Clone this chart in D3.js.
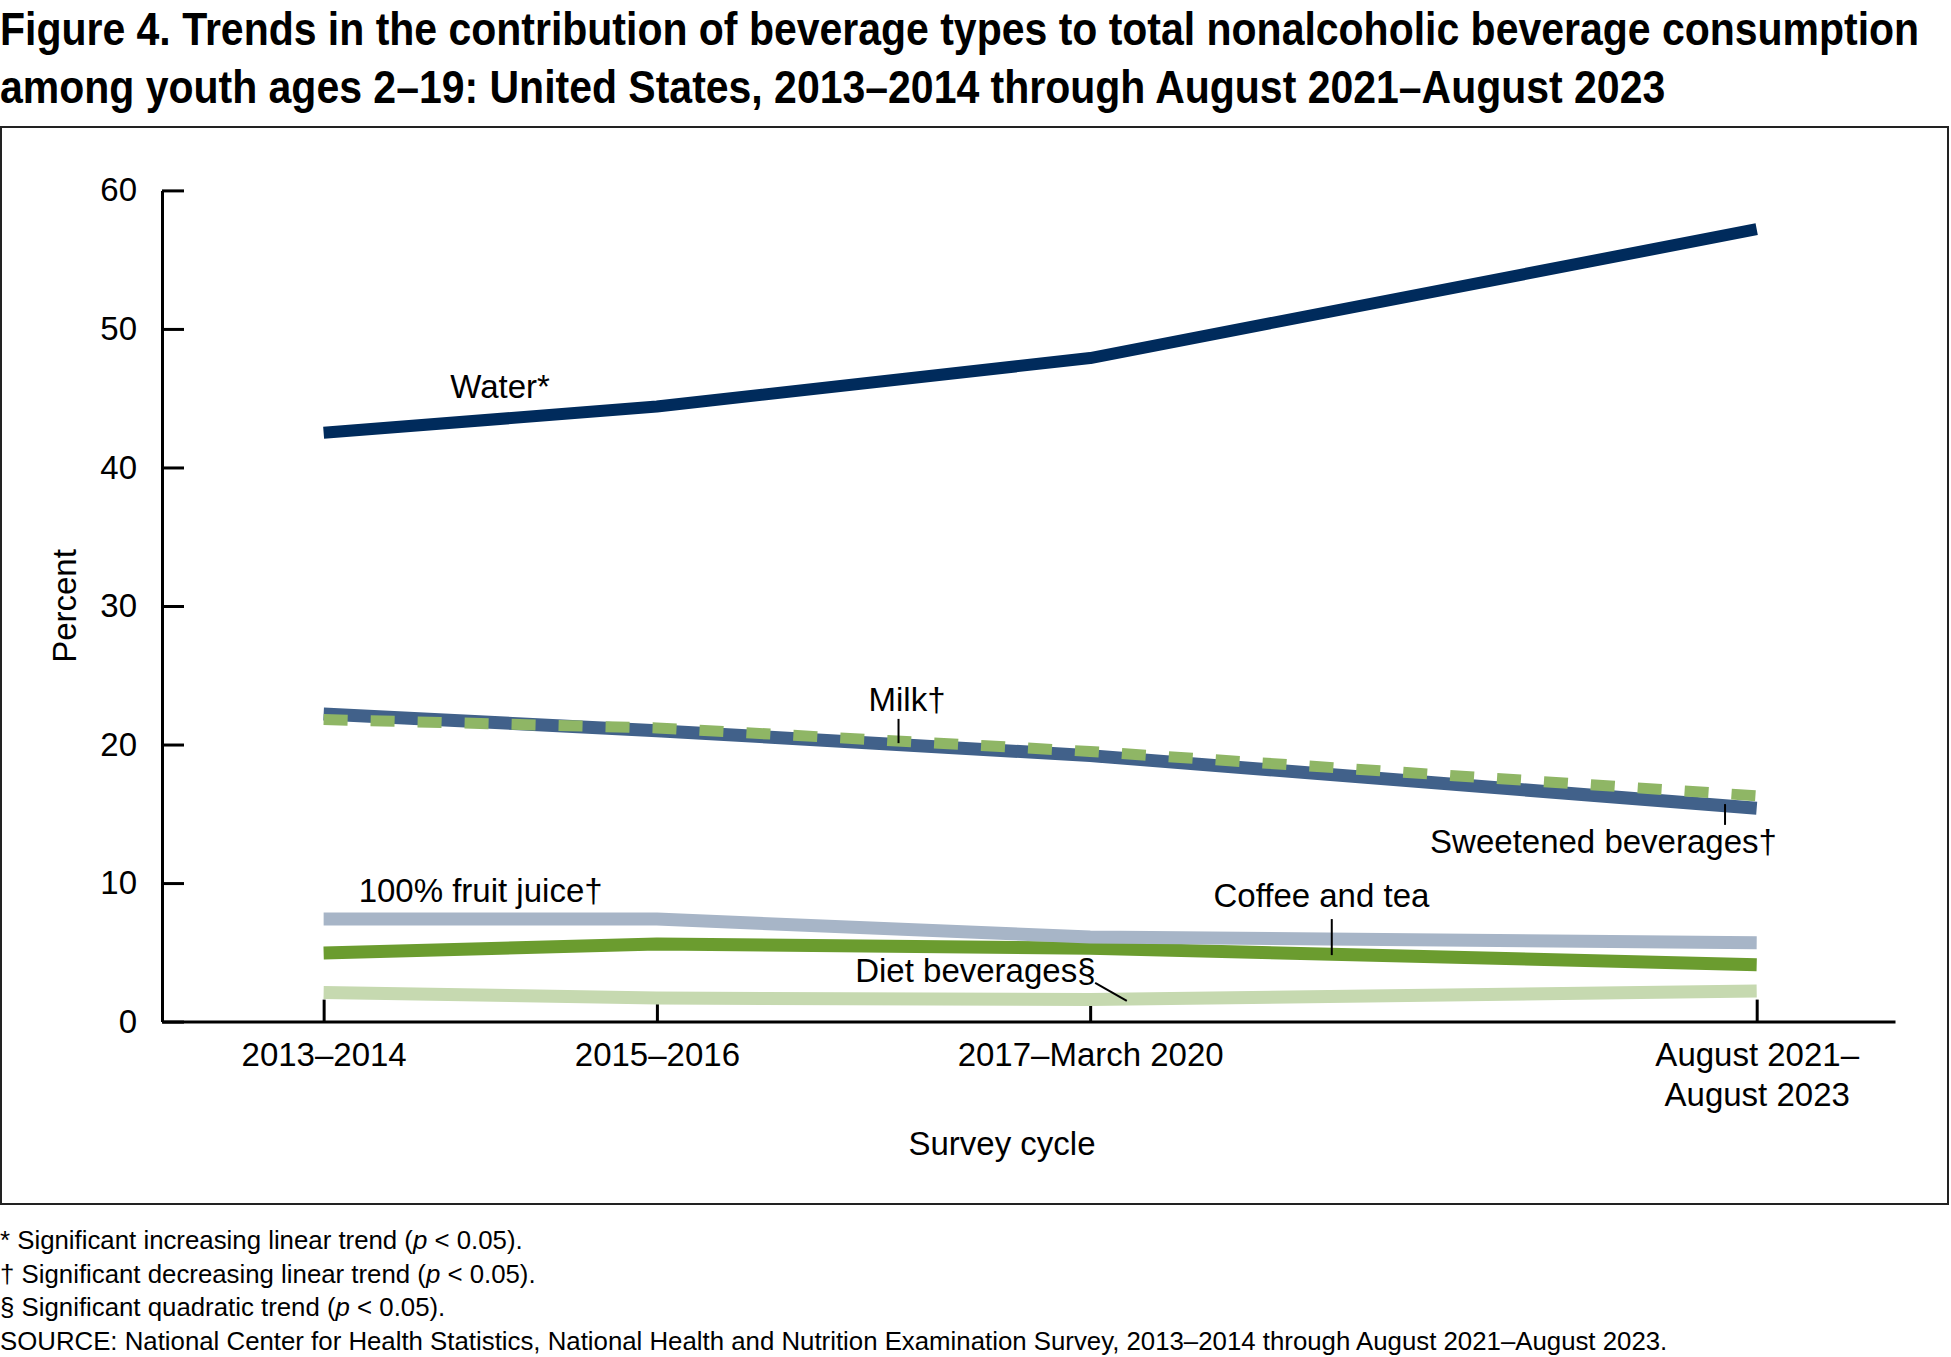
<!DOCTYPE html>
<html>
<head>
<meta charset="utf-8">
<script src="https://cdn.jsdelivr.net/npm/d3@7"></script>
<style>
  body { margin: 0; background: #fff; }
  text { font-family: "Liberation Sans", Arial, sans-serif; fill: #000; }
</style>
</head>
<body>
<div id="chart"></div>
<script>
// survey cycles, placed at the middle of each cycle in calendar years
const cycles = ["2013\u20132014", "2015\u20132016", "2017\u2013March 2020", "August 2021\u2013\nAugust 2023"];
const cycleMid = [2014, 2016, 2018.6, 2022.6];

// percent of total nonalcoholic beverage consumption
const water = [42.5, 44.4, 47.9, 57.2];
const sweetened = [22.2, 21.0, 19.2, 15.4];
const milk = [21.8, 21.2, 19.5, 16.3];
const juice = [7.4, 7.4, 6.1, 5.7];
const coffeeTea = [4.95, 5.6, 5.3, 4.1];
const diet = [2.1, 1.7, 1.6, 2.2];

const yTicks = [0, 10, 20, 30, 40, 50, 60];

const titleLines = [
  "Figure 4. Trends in the contribution of beverage types to total nonalcoholic beverage consumption",
  "among youth ages 2\u201319: United States, 2013\u20132014 through August 2021\u2013August 2023"
];

const footnotes = [
  ["* Significant increasing linear trend (", "p", " < 0.05)."],
  ["\u2020 Significant decreasing linear trend (", "p", " < 0.05)."],
  ["\u00a7 Significant quadratic trend (", "p", " < 0.05)."],
  ["SOURCE: National Center for Health Statistics, National Health and Nutrition Examination Survey, 2013\u20132014 through August 2021\u2013August 2023."]
];

const W = 1951, H = 1357;
const svg = d3.select("#chart").append("svg")
    .attr("width", W)
    .attr("height", H);

// title: bold, squeezed horizontally to look like a narrow face
const titleWidth = 1920;
const titleG = svg.append("g");
const titleTexts = titleG.selectAll("text")
  .data(titleLines)
  .join("text")
    .attr("x", 0)
    .attr("y", (d, i) => 45 + i * 58)
    .style("font-weight", "bold")
    .style("font-size", "47px")
    .text(d => d);
const squeeze = titleWidth / titleTexts.node().getComputedTextLength();
titleG.attr("transform", `scale(${squeeze},1)`);

// frame
svg.append("rect")
    .attr("x", 1).attr("y", 127)
    .attr("width", 1947).attr("height", 1077)
    .attr("fill", "none")
    .attr("stroke", "#222")
    .attr("stroke-width", 2);

const x = d3.scaleLinear()
    .domain([2013.03, 2023.43])
    .range([162, 1895]);

const y = d3.scaleLinear()
    .domain([0, 60])
    .range([1021.6, 190.4]);

// axes
const xAxis = d3.axisBottom(x)
    .tickValues(cycleMid)
    .tickSize(-22)
    .tickSizeOuter(0)
    .tickPadding(21)
    .tickFormat((d, i) => cycles[i]);

const yAxis = d3.axisLeft(y)
    .tickValues(yTicks)
    .tickSize(-22)
    .tickSizeOuter(0)
    .tickPadding(25);

const gx = svg.append("g")
    .attr("transform", `translate(0,${y(0)})`)
    .call(xAxis);

const gy = svg.append("g")
    .attr("transform", `translate(${x.range()[0]},0)`)
    .call(yAxis);

[gx, gy].forEach(g => {
  g.select(".domain").attr("stroke", "#000").attr("stroke-width", 3);
  g.selectAll(".tick line").attr("stroke", "#000").attr("stroke-width", 3);
  g.selectAll(".tick text")
      .style("font-family", "'Liberation Sans', Arial, sans-serif")
      .style("font-size", "33px")
      .attr("fill", "#000");
});

// two-line tick labels
gx.selectAll(".tick text").each(function(d, i) {
  const parts = cycles[i].split("\n");
  const t = d3.select(this).text(null);
  parts.forEach((p, j) => {
    t.append("tspan").attr("x", 0).attr("dy", j === 0 ? "0.71em" : "1.22em").text(p);
  });
}).attr("dy", null);

// axis titles
svg.append("text")
    .attr("x", 1002)
    .attr("y", 1155)
    .attr("text-anchor", "middle")
    .style("font-size", "33px")
    .text("Survey cycle");

svg.append("text")
    .attr("transform", `translate(76,${(y(0) + y(60)) / 2}) rotate(-90)`)
    .attr("text-anchor", "middle")
    .style("font-size", "33px")
    .text("Percent");

// series lines
const line = d3.line()
    .x((d, i) => x(cycleMid[i]))
    .y(d => y(d));

const series = [
  { values: diet, color: "#c6d9b0", width: 13 },
  { values: coffeeTea, color: "#6b9c2f", width: 13 },
  { values: juice, color: "#a7b5c7", width: 13 },
  { values: sweetened, color: "#41618a", width: 13 },
  { values: milk, color: "#8fb665", width: 11, dash: "24,23" },
  { values: water, color: "#002b5c", width: 12 }
];

svg.append("g")
  .selectAll("path")
  .data(series)
  .join("path")
    .attr("d", d => line(d.values))
    .attr("fill", "none")
    .attr("stroke", d => d.color)
    .attr("stroke-width", d => d.width)
    .attr("stroke-dasharray", d => d.dash || null)
    .attr("stroke-linejoin", "round");

// series labels, placed in data units
const labels = [
  { text: "Water*", yr: 2014.76, v: 45.0 },
  { text: "Milk\u2020", yr: 2017.27, v: 22.45 },
  { text: "Sweetened beverages\u2020", yr: 2020.64, v: 12.15 },
  { text: "100% fruit juice\u2020", yr: 2014.21, v: 8.6 },
  { text: "Coffee and tea", yr: 2019.34, v: 8.3 },
  { text: "Diet beverages\u00a7", yr: 2017.19, v: 2.85 }
];

svg.append("g")
  .selectAll("text")
  .data(labels)
  .join("text")
    .attr("x", d => x(d.yr))
    .attr("y", d => y(d.v))
    .style("font-size", "33px")
    .text(d => d.text);

const leaders = [
  { yr1: 2017.45, v1: 21.85, yr2: 2017.45, v2: 20.1 },
  { yr1: 2022.41, v1: 15.7, yr2: 2022.41, v2: 14.2 },
  { yr1: 2020.05, v1: 7.4, yr2: 2020.05, v2: 4.8 },
  { yr1: 2018.63, v1: 2.8, yr2: 2018.82, v2: 1.49 }
];

svg.append("g")
  .selectAll("line")
  .data(leaders)
  .join("line")
    .attr("x1", d => x(d.yr1))
    .attr("y1", d => y(d.v1))
    .attr("x2", d => x(d.yr2))
    .attr("y2", d => y(d.v2))
    .attr("stroke", "#000")
    .attr("stroke-width", 2);

// footnotes
const fn = svg.append("g");
footnotes.forEach((parts, i) => {
  const t = fn.append("text")
      .attr("x", 0)
      .attr("y", 1249 + i * 33.5)
      .style("font-size", "25.8px");
  parts.forEach((p, j) => {
    t.append("tspan").style("font-style", j === 1 ? "italic" : null).text(p);
  });
});
</script>
</body>
</html>
